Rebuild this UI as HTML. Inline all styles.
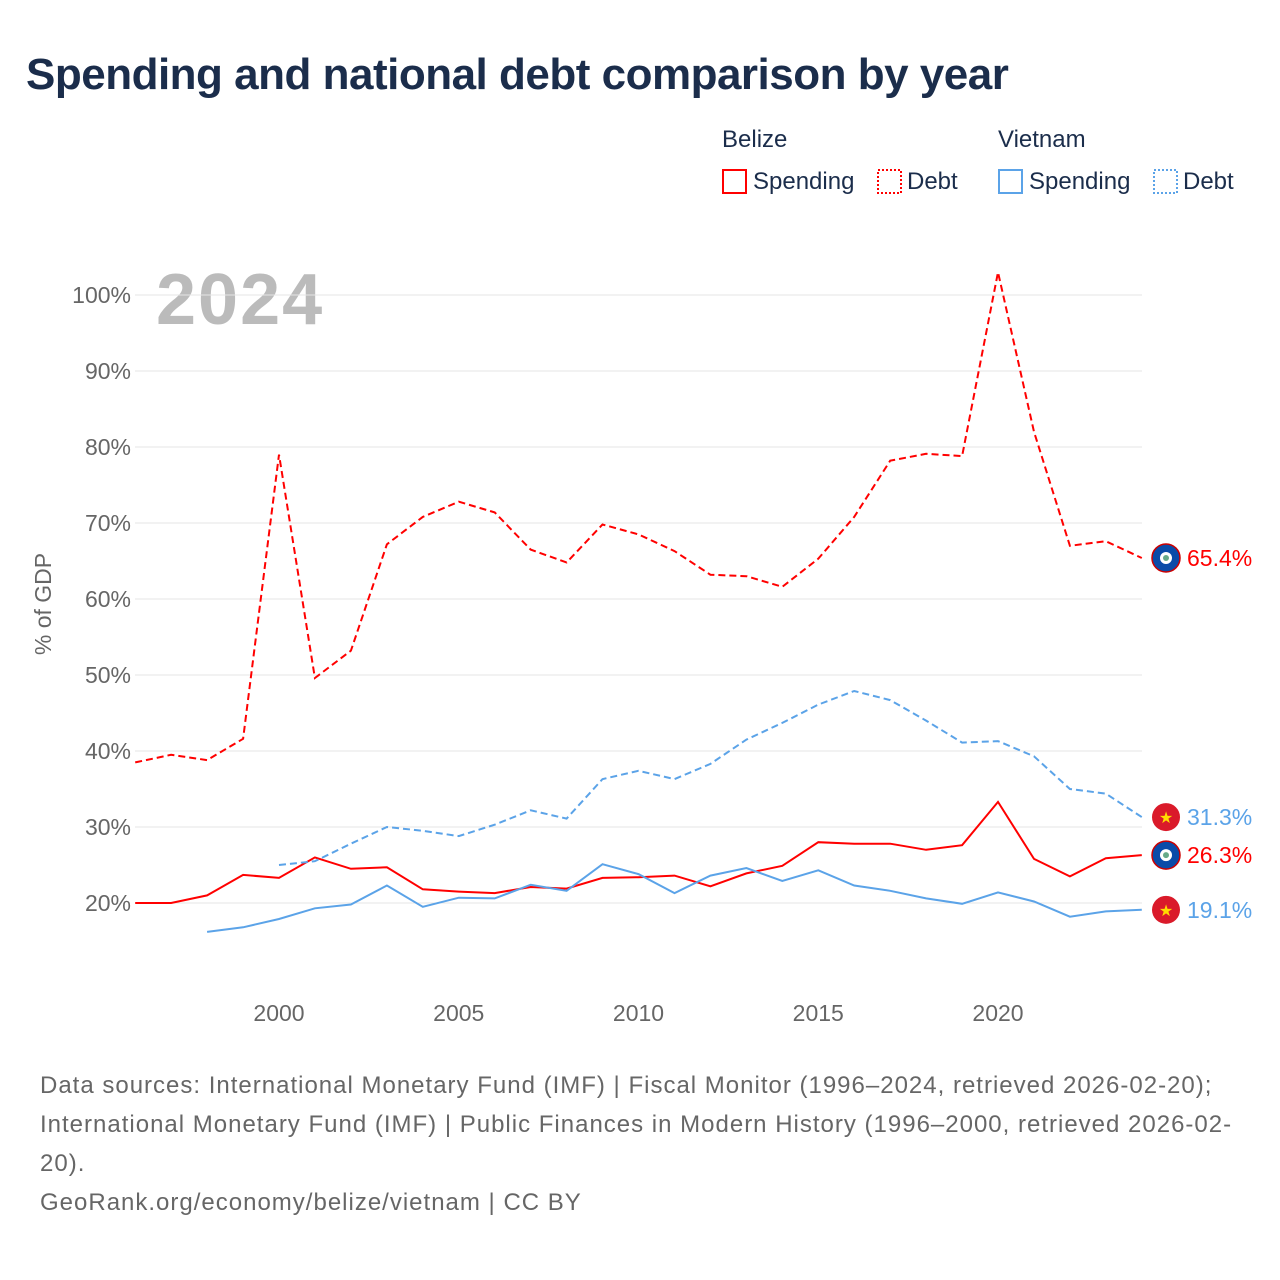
<!DOCTYPE html>
<html><head><meta charset="utf-8">
<style>
body{margin:0;background:#fff;font-family:"Liberation Sans",sans-serif;}
#wrap{position:relative;width:1280px;height:1280px;overflow:hidden;}
h1{position:absolute;left:26px;top:50px;margin:0;font-size:44px;font-weight:bold;color:#1b2d4b;letter-spacing:-0.5px;}
.src{position:absolute;left:40px;top:1066px;width:1195px;font-size:24px;line-height:39px;color:#666;letter-spacing:1px;}
</style></head>
<body><div id="wrap">
<h1>Spending and national debt comparison by year</h1>
<svg id="svg" width="1280" height="1280" style="position:absolute;left:0;top:0">
<g font-size="24" fill="#1b2d4b">
<text x="722" y="147">Belize</text>
<text x="998" y="147">Vietnam</text>
<g><rect x="723" y="170" width="23" height="23" fill="none" stroke="#ff0000" stroke-width="2"/><text x="753" y="189">Spending</text></g>
<g><rect x="878" y="170" width="23" height="23" fill="none" stroke="#ff0000" stroke-width="2" stroke-dasharray="2,2"/><text x="907" y="189">Debt</text></g>
<g><rect x="999" y="170" width="23" height="23" fill="none" stroke="#5ba3e8" stroke-width="2"/><text x="1029" y="189">Spending</text></g>
<g><rect x="1154" y="170" width="23" height="23" fill="none" stroke="#5ba3e8" stroke-width="2" stroke-dasharray="2,2"/><text x="1183" y="189">Debt</text></g>
</g>
<text x="156" y="324" font-size="72" font-weight="bold" fill="#bbb" letter-spacing="2">2024</text>
<text transform="translate(51,604) rotate(-90)" text-anchor="middle" font-size="23" fill="#666">% of GDP</text>
<g id="grid"></g><g id="lines"></g><g id="ends"></g>
</svg>
<div class="src">Data sources: International Monetary Fund (IMF) | Fiscal Monitor (1996–2024, retrieved 2026-02-20); International Monetary Fund (IMF) | Public Finances in Modern History (1996–2000, retrieved 2026-02-20).<br>GeoRank.org/economy/belize/vietnam | CC BY</div>
</div>
<script>
const years=[1996,1997,1998,1999,2000,2001,2002,2003,2004,2005,2006,2007,2008,2009,2010,2011,2012,2013,2014,2015,2016,2017,2018,2019,2020,2021,2022,2023,2024];
const belizeDebt=[38.5,39.5,38.8,41.6,79,49.6,53.2,67.2,70.8,72.8,71.4,66.5,64.8,69.8,68.5,66.3,63.2,63.0,61.6,65.3,70.8,78.2,79.1,78.8,103.0,82,67.0,67.6,65.4];
const belizeSpending=[20.0,20.0,21.0,23.7,23.3,26.0,24.5,24.7,21.8,21.5,21.3,22.1,21.9,23.3,23.4,23.6,22.2,23.9,24.9,28.0,27.8,27.8,27.0,27.6,33.3,25.8,23.5,25.9,26.3];
const vietnamDebt=[null,null,null,null,25.0,25.5,27.8,30.0,29.5,28.8,30.3,32.2,31.1,36.3,37.4,36.3,38.3,41.5,43.7,46.1,47.9,46.7,44.0,41.1,41.3,39.3,35.0,34.4,31.3];
const vietnamSpending=[null,null,16.2,16.8,17.9,19.3,19.8,22.3,19.5,20.7,20.6,22.4,21.6,25.1,23.8,21.3,23.6,24.6,22.9,24.3,22.3,21.6,20.6,19.9,21.4,20.2,18.2,18.9,19.1];
const yTicks=[20,30,40,50,60,70,80,90,100];
const xTicks=[2000,2005,2010,2015,2020];
const NS="http://www.w3.org/2000/svg";
const X=y=>279+(y-2000)*35.95;
const Y=v=>903-(v-20)*7.6;
function mk(t,a,p){const e=document.createElementNS(NS,t);for(const k in a)e.setAttribute(k,a[k]);p.appendChild(e);return e;}
const grid=document.getElementById('grid');
yTicks.forEach(v=>{
 const l=mk('line',{x1:135,x2:1142,y1:Y(v),y2:Y(v),stroke:'#e6e6e6','stroke-width':1},grid);
 
 
 const t=mk('text',{x:131,y:Y(v)+8,'text-anchor':'end','font-size':23,fill:'#666'},grid);
 t.textContent=v+'%';
 
 
});
xTicks.forEach(v=>{
 const t=mk('text',{x:X(v),y:1021,'text-anchor':'middle','font-size':23,fill:'#666'},grid);
 t.textContent=v;
 
 
});
const lines=document.getElementById('lines');
const series=[[belizeDebt,'#ff0000',true,'belize-debt-line'],[belizeSpending,'#ff0000',false,'belize-spending-line'],[vietnamDebt,'#5ba3e8',true,'vietnam-debt-line'],[vietnamSpending,'#5ba3e8',false,'vietnam-spending-line']];
series.forEach(([d,c,dash,n])=>{
 let p='';d.forEach((v,i)=>{if(v==null)return;p+=(p?'L':'M')+X(years[i]).toFixed(1)+','+Y(v).toFixed(1);});
 const e=mk('path',{d:p,fill:'none',stroke:c,'stroke-width':2,'stroke-dasharray':dash?'7,4':'none'},lines);
 
 
});
const ends=document.getElementById('ends');
[[belizeDebt,'#ff0000','belize'],[vietnamDebt,'#5ba3e8','vietnam'],[belizeSpending,'#ff0000','belize'],[vietnamSpending,'#5ba3e8','vietnam']].forEach(([d,c,country],k)=>{
 const v=d[d.length-1],y=Y(v),cx=1166;
 const g=mk('g',{},ends);
 
 
 if(country==='belize'){mk('circle',{cx:cx,cy:y,r:14,fill:'#0a4ba8',stroke:'#c00','stroke-width':1.5},g);mk('circle',{cx:cx,cy:y,r:6,fill:'#fff'},g);mk('circle',{cx:cx,cy:y,r:3,fill:'#6a8'},g);}
 else{mk('circle',{cx:cx,cy:y,r:14,fill:'#da1a2a'},g);const s=mk('text',{x:cx,y:y+6,'text-anchor':'middle','font-size':16,fill:'#ffdd00'},g);s.textContent='★';}
 const t=mk('text',{x:1187,y:y+8,'font-size':23,fill:c},g);t.textContent=v.toFixed(1)+'%';
});
</script>
</body></html>
